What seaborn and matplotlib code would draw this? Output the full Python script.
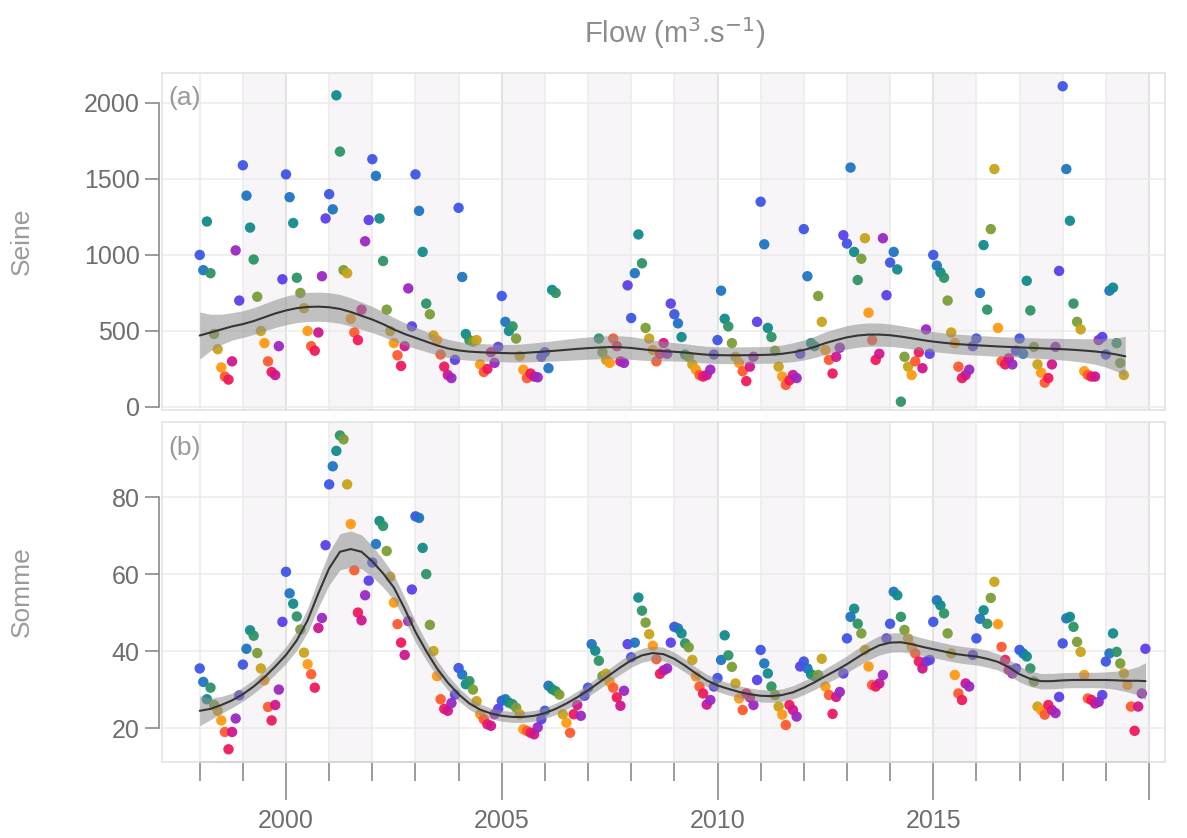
import numpy as np
import pandas as pd
import seaborn as sns
import matplotlib
matplotlib.use("Agg")
import matplotlib.pyplot as plt
from matplotlib.patches import Rectangle

# monthly flows (Jan..Dec), one row per year 1998..2019
years = list(range(1998, 2020))
nan = np.nan
seine_flow = [
    [1000, 900, 1220, 880, 480, 380, 260, 200, 180, 300, 1030, 700],
    [1590, 1390, 1180, 970, 725, 500, 420, 300, 230, 210, 400, 840],
    [1530, 1380, 1210, 850, 750, 650, 500, 400, 370, 490, 860, 1240],
    [1400, 1300, 2050, 1680, 900, 880, 580, 490, 440, 640, 1090, 1230],
    [1630, 1520, 1240, 960, 640, 500, 420, 340, 270, 400, 780, 530],
    [1530, 1290, 1020, 680, 610, 470, 440, 345, 265, 210, 190, 310],
    [1310, 855, 480, 440, 430, 440, 280, 230, 250, 360, 290, 395],
    [730, 560, 500, 530, 450, 335, 245, 190, 220, 200, 195, 330],
    [360, 255, 770, 750, nan, nan, nan, nan, nan, nan, nan, nan],
    [nan, nan, nan, 450, 360, 310, 290, 450, 400, 300, 290, 800],
    [585, 880, 1135, 945, 520, 450, 375, 300, 350, 420, 350, 680],
    [610, 550, 460, 345, 330, 280, 245, 210, 200, 210, 245, 345],
    [440, 765, 580, 530, 420, 330, 290, 235, 170, 265, 330, 560],
    [1350, 1070, 520, 460, 370, 265, 200, 145, 175, 210, 190, 350],
    [1170, 860, 420, 400, 730, 560, 375, 310, 220, 330, 390, 1130],
    [1075, 1575, 1020, 835, 975, 1110, 620, 440, 310, 350, 1110, 735],
    [950, 1020, 905, 35, 330, 265, 210, 300, 360, 255, 510, 350],
    [1000, 930, 885, 850, 700, 490, 420, 265, 190, 210, 245, 400],
    [450, 750, 1065, 640, 1170, 1565, 520, 300, 280, 320, 280, 370],
    [450, 350, 830, 635, 395, 280, 225, 160, 190, 280, 395, 895],
    [2110, 1565, 1225, 680, 560, 510, 235, 210, 200, 200, 440, 460],
    [345, 765, 785, 420, 290, 210, nan, nan, nan, nan, nan, nan],
]
somme_flow = [
    [35.5, 32, 27.5, 30.5, 26, 24.5, 22, 19, 14.5, 19, 22.5, 28.5],
    [36.5, 40.6, 45.4, 44, 39.5, 35.5, 32.4, 25.5, 22, 26, 30, 47.6],
    [60.6, 55, 52.3, 49, 45.6, 39.6, 36.6, 34, 30.5, 46, 48.6, 67.5],
    [83.3, 88, 92, 96, 95, 83.3, 73, 61, 50, 48, 54.5, 58.3],
    [63, 67.8, 73.8, 72.5, 66, 59.3, 52.6, 47, 42.2, 39, 47.8, 56],
    [75, 74.6, 66.8, 60, 46.8, 40, 33.5, 27.5, 25, 24.5, 26.5, 28.7],
    [35.6, 33.9, 31.4, 32.2, 30, 27, 23.6, 22.3, 21, 20.6, 23.6, 25],
    [27.1, 27.5, 26.6, 26.2, 25.3, 23.6, 19.7, 19.3, 18.8, 18.4, 20.2, 22.3],
    [24.5, 31, 30.1, 29.6, 28.7, 23.6, 21.4, 18.8, 23.6, 26, 23.2, 28.4],
    [30.5, 41.8, 40.1, 37.5, 33.5, 34.1, 32, 30.5, 28, 25.8, 29.7, 41.8],
    [38.4, 42.2, 53.9, 50.5, 47.4, 44.4, 41.4, 37.9, 34.1, 35, 35.5, 42.2],
    [46.3, 45.9, 44.6, 42, 41, 37.7, 33.4, 30.8, 29, 26.1, 27.3, 30.8],
    [33, 37.7, 44.1, 38.9, 35.9, 31.6, 27.7, 24.7, 29, 28, 26, 32.5],
    [40.3, 36.8, 34.2, 30.8, 28.6, 25.6, 23.5, 20.8, 26, 24.7, 23, 36],
    [37.3, 35.5, 34, 33.5, 33.8, 38, 30.8, 28.6, 23.7, 28.1, 29.4, 34.2],
    [43.3, 48.9, 51, 47.1, 44.6, 40.3, 36, 31.2, 30.8, 31.6, 33.8, 43.3],
    [47.1, 55.4, 54.5, 48.9, 45.5, 43.3, 41.1, 39.4, 37.3, 35.5, 37.3, 37.7],
    [47.6, 53.2, 51.9, 49.8, 44.6, 39.4, 33.8, 29, 27.3, 31.6, 30.8, 39],
    [43.3, 48.4, 50.6, 47.1, 53.8, 58, 47, 41.1, 37.7, 35.1, 34.2, 35.5],
    [40.3, 39.4, 38.6, 35.5, 32.1, 25.6, 24.7, 23.5, 26, 24.7, 23.9, 28.1],
    [42, 48.5, 48.9, 46.3, 42.4, 39.8, 33.8, 27.7, 27.3, 26.4, 26.8, 28.6],
    [37.3, 39.4, 44.6, 39.8, 36.8, 34.2, 31.2, 25.6, 19.3, 25.6, 29, 40.6],
]

# smoothed trend + half width of its grey band, read every quarter of a year
seine_trend_dates = [1998 + 0.25 * i for i in range(86)] + [2019.45]
seine_trend = [470, 490, 510, 530, 545, 565, 590, 615, 635, 650, 658, 660,
               656, 645, 625, 600, 575, 545, 510, 480, 455, 430, 405, 385,
               372, 364, 360, 357, 355, 353, 355, 360, 365, 370, 376, 382,
               387, 391, 394, 393, 388, 380, 372, 367, 363, 358, 350, 344,
               341, 340, 340, 341, 342, 344, 350, 360, 375, 395, 420, 440,
               458, 470, 476, 476, 472, 463, 452, 440, 430, 422, 415, 410,
               406, 402, 398, 395, 392, 389, 386, 383, 380, 376, 371, 365,
               357, 345, 333]
seine_band = [155, 120, 100, 90, 88, 88, 90, 92, 94, 95, 96, 96,
              96, 95, 93, 90, 86, 82, 78, 74, 70, 66, 63, 60,
              58, 57, 57, 57, 57, 58, 60, 62, 64, 67, 70, 72,
              73, 74, 75, 75, 75, 72, 68, 64, 60, 58, 56, 55,
              55, 55, 55, 55, 55, 56, 58, 62, 66, 70, 74, 76,
              77, 77, 77, 76, 74, 72, 70, 68, 66, 65, 65, 65,
              65, 65, 65, 65, 65, 66, 67, 69, 71, 74, 78, 84,
              95, 110, 132]
somme_trend_dates = [1998 + 0.25 * i for i in range(88)] + [2019.92]
somme_trend = [24.5, 25.0, 26.0, 27.2, 28.8, 30.8, 33.2, 36.0, 39.0, 42.8, 48.0, 55.0,
               61.5, 65.8, 66.5, 65.8, 63.3, 60.2, 56.5, 51.0, 45.0, 40.0, 35.5, 31.8,
               28.8, 26.4, 24.8, 23.8, 23.2, 22.9, 22.9, 23.2, 23.9, 25.0, 26.4, 28.0,
               29.8, 31.8, 33.8, 35.8, 37.6, 38.9, 39.5, 39.2, 38.0, 36.2, 34.2, 32.4,
               31.1, 30.2, 29.4, 28.8, 28.4, 28.3, 28.6, 29.3, 30.5, 31.9, 33.5, 35.0,
               36.6, 38.4, 40.1, 41.5, 42.2, 42.3, 41.8, 41.1, 40.5, 39.9, 39.3, 38.9,
               38.6, 38.0, 37.2, 35.8, 34.0, 32.8, 32.2, 32.2, 32.4, 32.5, 32.5, 32.5,
               32.5, 32.4, 32.3, 32.3, 32.2]
somme_band = [3.9, 2.8, 2.2, 1.9, 1.8, 1.8, 1.9, 2.0, 2.2, 2.6, 3.1, 3.7,
              4.3, 4.7, 4.7, 4.4, 4.0, 3.6, 3.3, 3.0, 2.7, 2.4, 2.1, 1.9,
              1.7, 1.6, 1.5, 1.4, 1.4, 1.4, 1.4, 1.4, 1.4, 1.5, 1.5, 1.6,
              1.6, 1.7, 1.7, 1.8, 1.8, 1.8, 1.8, 1.8, 1.7, 1.7, 1.6, 1.6,
              1.6, 1.6, 1.6, 1.6, 1.6, 1.6, 1.6, 1.7, 1.8, 1.9, 2.0, 2.1,
              2.2, 2.3, 2.4, 2.5, 2.5, 2.5, 2.4, 2.3, 2.2, 2.2, 2.2, 2.2,
              2.2, 2.2, 2.1, 2.1, 2.0, 2.0, 2.0, 2.0, 2.0, 2.0, 2.0, 2.0,
              2.1, 2.4, 2.9, 3.7, 4.8]

month_colors = ['#3F55E6', '#1F74C4', '#118B8C', '#2D9466', '#7A9E36', '#C9A31A',
                '#FF9A12', '#FF5A2E', '#F01A5C', '#D0168E', '#9B27C2', '#5C3FEA']

TXT = '#8C8C8C'
TICK_TXT = '#6E6E6E'
AXC = '#8A8A8A'


def to_long(flow):
    arr = np.array(flow, dtype=float)
    df = pd.DataFrame(arr, index=years, columns=range(1, 13))
    df = df.stack().reset_index()
    df.columns = ['year', 'month', 'flow']
    df['date'] = df.year + (df.month - 1) / 12
    return df.dropna()


sns.set_theme(style='white')
plt.rcParams['font.family'] = ['Liberation Sans', 'DejaVu Sans']

fig = plt.figure(figsize=(11.87, 8.38), dpi=100)
ax_a = fig.add_axes([0.13648, 0.51074, 0.84499, 0.40215])
ax_b = fig.add_axes([0.13648, 0.09069, 0.84499, 0.40573])

panels = [
    (ax_a, to_long(seine_flow), seine_trend_dates, seine_trend, seine_band,
     '(a)', 'Seine', (-20, 2197), [0, 500, 1000, 1500, 2000]),
    (ax_b, to_long(somme_flow), somme_trend_dates, somme_trend, somme_band,
     '(b)', 'Somme', (11.2, 99.5), [20, 40, 60, 80]),
]

for ax, df, tx, ty, tb, tag, name, ylim, yticks in panels:
    ax.set_facecolor('white')
    for yr in range(1999, 2020, 2):
        ax.axvspan(yr, yr + 1, color='#F7F5F7', lw=0, zorder=0)
    for yr in range(1998, 2021):
        c = '#DCDCDC' if yr % 5 == 0 else '#EBEBEB'
        ax.axvline(yr, color=c, lw=1.1, zorder=0.5)
    for yt in yticks:
        ax.axhline(yt, color='#EBEBEB', lw=1.1, zorder=0.5)

    sns.scatterplot(data=df, x='date', y='flow', hue='month', palette=month_colors,
                    hue_order=list(range(1, 13)), legend=False, s=56, linewidth=0,
                    alpha=0.95, ax=ax, zorder=2)

    tx = np.array(tx)
    ty = np.array(ty)
    tb = np.array(tb)
    ax.fill_between(tx, ty - tb, ty + tb, color='#8F8F8F', alpha=0.55, lw=0, zorder=3)
    sns.lineplot(x=tx, y=ty, color='#353535', lw=1.5, ax=ax, zorder=4)

    ax.set_xlim(1997.126, 2020.371)
    ax.set_ylim(*ylim)
    ax.set_yticks(yticks)
    ax.set_xlabel('')
    ax.set_ylabel(name, color='#9A9A9A', fontsize=19)
    ax.yaxis.set_label_coords(-0.128, 0.5)
    ax.text(0.006, 0.925, tag, transform=ax.transAxes, color='#9A9A9A',
            fontsize=19, va='center', ha='left')

    # light panel frame + grey range-frame axis line
    ax.add_patch(Rectangle((0, 0), 1, 1, transform=ax.transAxes, fill=False,
                           ec='#E2E2E2', lw=1.2, zorder=5, clip_on=False))
    for s in ['top', 'right', 'bottom']:
        ax.spines[s].set_visible(False)
    ax.spines['left'].set_position(('outward', 2))
    ax.spines['left'].set_bounds(yticks[0], yticks[-1])
    ax.spines['left'].set_color(AXC)
    ax.spines['left'].set_linewidth(1.2)
    ax.tick_params(axis='y', which='major', length=10, width=1.2, color=AXC,
                   labelcolor=TICK_TXT, labelsize=18, pad=4, left=True)

ax_a.tick_params(axis='x', bottom=False, labelbottom=False)

ax_b.spines['bottom'].set_visible(True)
ax_b.spines['bottom'].set_bounds(1998, 2020)
ax_b.spines['bottom'].set_color(AXC)
ax_b.spines['bottom'].set_linewidth(1.2)
ax_b.set_xticks([2000, 2005, 2010, 2015, 2020])
ax_b.set_xticklabels(['2000', '2005', '2010', '2015', ''])
ax_b.set_xticks(list(range(1998, 2021)), minor=True)
ax_b.tick_params(axis='x', which='major', length=27, width=1.2, color=AXC,
                 labelcolor=TICK_TXT, labelsize=18, pad=7, bottom=True)
ax_b.tick_params(axis='x', which='minor', length=14, width=1.2, color=AXC, bottom=True)

fig.text(0.5686, 0.96, 'Flow (m$^{3}$.s$^{-1}$)', color=TXT, fontsize=21,
         ha='center', va='center')

fig.savefig('out.png', dpi=100)
